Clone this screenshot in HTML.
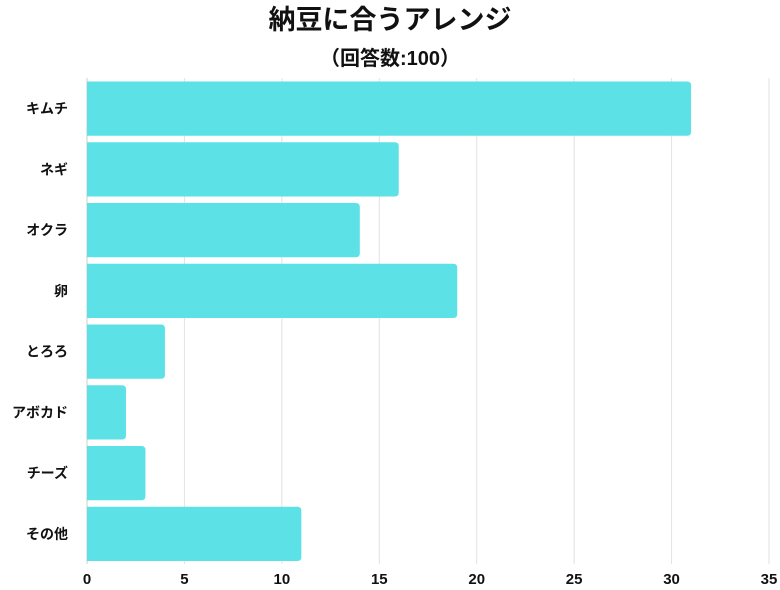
<!DOCTYPE html>
<html><head><meta charset="utf-8"><style>
body{margin:0;background:#fff;}
svg text{font-family:"Liberation Sans","Noto Sans CJK JP",sans-serif;font-weight:bold;fill:#111;}
</style></head><body>
<svg id="chart" width="780" height="585" viewBox="0 0 780 585" xmlns="http://www.w3.org/2000/svg">
<text x="390" y="29" text-anchor="middle" font-size="27">納豆に合うアレンジ</text>
<text x="390" y="65" text-anchor="middle" font-size="20">（回答数:100）</text>
<g id="grid"></g><g id="bars"></g><g id="ylabels"></g><g id="xlabels"></g>
</svg>
<script>
const categories=["キムチ","ネギ","オクラ","卵","とろろ","アボカド","チーズ","その他"];
const values=[31,16,14,19,4,2,3,11];
const ticks=[0,5,10,15,20,25,30,35];
const x0=87,x1=769,xMax=35,plotTop=78,plotBottom=564;
const ns="http://www.w3.org/2000/svg";
function xs(v){return x0+(x1-x0)*v/xMax;}
const band=(plotBottom-plotTop)/categories.length;
function yb(i){return plotTop+band*i;}
const grid=document.getElementById('grid'),bars=document.getElementById('bars'),yl=document.getElementById('ylabels'),xl=document.getElementById('xlabels');
ticks.forEach(t=>{
  const l=document.createElementNS(ns,'line');
  
  
  l.setAttribute('x1',xs(t));l.setAttribute('x2',xs(t));l.setAttribute('y1',plotTop);l.setAttribute('y2',plotBottom);
  l.setAttribute('stroke',t===0?'#cccccc':'#e2e2e2');l.setAttribute('stroke-width','1');
  grid.appendChild(l);
  const tx=document.createElementNS(ns,'text');
  
  
  tx.setAttribute('x',xs(t));tx.setAttribute('y',584);tx.setAttribute('text-anchor','middle');tx.setAttribute('font-size','15');
  tx.textContent=t;xl.appendChild(tx);
});
categories.forEach((c,i)=>{
  const y=yb(i)+3.5,h=band-6.5;
  const r=document.createElementNS(ns,'path');
  
  
  const xe=xs(values[i]),rad=Math.min(4,(xe-x0)/2);
  r.setAttribute('d',`M${x0},${y}H${xe-rad}Q${xe},${y} ${xe},${y+rad}V${y+h-rad}Q${xe},${y+h} ${xe-rad},${y+h}H${x0}Z`);
  r.setAttribute('fill','#5ce1e6');
  bars.appendChild(r);
  const t=document.createElementNS(ns,'text');
  
  
  t.setAttribute('x',68);t.setAttribute('y',y+h/2+5);t.setAttribute('text-anchor','end');t.setAttribute('font-size','14');
  t.textContent=c;yl.appendChild(t);
});
</script>
</body></html>
